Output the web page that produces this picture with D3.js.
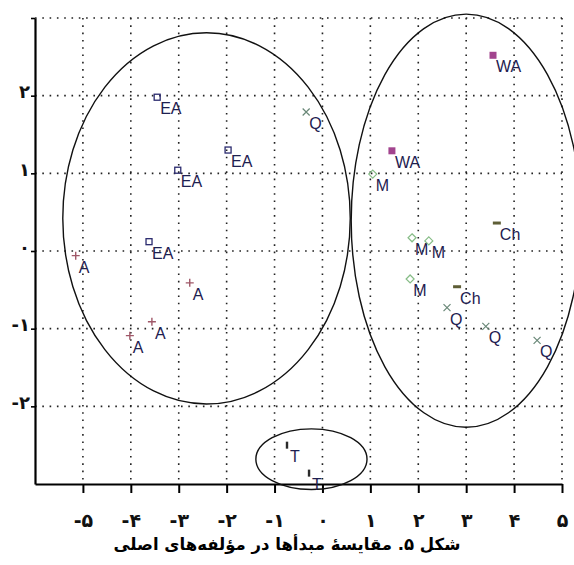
<!DOCTYPE html>
<html>
<head>
<meta charset="utf-8">
<script src="https://cdn.jsdelivr.net/npm/d3@7"></script>
<style>
  html, body { margin: 0; padding: 0; background: #fff; }
  svg { display: block; }
</style>
</head>
<body>
<svg id="chart" width="574" height="565"></svg>
<script>
const xTicks = [-5, -4, -3, -2, -1, 0, 1, 2, 3, 4, 5]
const yTicks = [-2, -1, 0, 1, 2, 3]
const xTickLabels = ['-۵', '-۴', '-۳', '-۲', '-۱', '۰', '۱', '۲', '۳', '۴', '۵']
const yTickLabels = ['-۲', '-۱', '۰', '۱', '۲', '']

const eaX = [-3.45, -3.02, -1.97, -3.62]
const eaY = [1.98, 1.04, 1.30, 0.12]
const aX = [-5.15, -2.77, -3.56, -4.02]
const aY = [-0.06, -0.41, -0.91, -1.09]
const qX = [-0.34, 2.60, 3.41, 4.48]
const qY = [1.79, -0.73, -0.97, -1.15]
const mX = [1.05, 1.87, 2.22, 1.83]
const mY = [0.99, 0.17, 0.13, -0.36]
const chX = [3.64, 2.81]
const chY = [0.36, -0.46]
const waX = [3.56, 1.45]
const waY = [2.52, 1.29]
const tX = [-0.74, -0.28]
const tY = [-2.50, -2.86]

// ellipses: centre x, centre y, radius x, radius y (data units)
const ellipseCx = [-2.42, 3.0, -0.23]
const ellipseCy = [0.42, 0.39, -2.68]
const ellipseRx = [3.0, 2.40, 1.16]
const ellipseRy = [2.39, 2.66, 0.39]

const caption = 'شکل ۵. مقایسهٔ مبدأها در مؤلفه‌های اصلی'

const groups = [
  {name: 'EA', xs: eaX, ys: eaY, shape: 'square', color: '#2a2a6e'},
  {name: 'A', xs: aX, ys: aY, shape: 'plus', color: '#a05868'},
  {name: 'Q', xs: qX, ys: qY, shape: 'cross', color: '#6a8878'},
  {name: 'M', xs: mX, ys: mY, shape: 'diamond', color: '#86bc86'},
  {name: 'Ch', xs: chX, ys: chY, shape: 'dash', color: '#5e5e36'},
  {name: 'WA', xs: waX, ys: waY, shape: 'filled', color: '#a2448e'},
  {name: 'T', xs: tX, ys: tY, shape: 'bar', color: '#2a2a2a'}
]

const svg = d3.select('#chart')
const x = d3.scaleLinear().domain([-6, 5]).range([35, 562])
const y = d3.scaleLinear().domain([-3, 3]).range([484, 18])

// dotted grid
svg.append('g')
  .selectAll('line')
  .data(xTicks)
  .enter()
  .append('line')
  .attr('x1', d => x(d)).attr('x2', d => x(d))
  .attr('y1', y(3)).attr('y2', y(-3))
  .style('stroke', '#222')
  .style('stroke-width', 1.6)
  .style('stroke-dasharray', '1.6,5.7')

svg.append('g')
  .selectAll('line')
  .data(yTicks)
  .enter()
  .append('line')
  .attr('x1', x(-6)).attr('x2', x(5))
  .attr('y1', d => y(d)).attr('y2', d => y(d))
  .style('stroke', '#222')
  .style('stroke-width', 1.6)
  .style('stroke-dasharray', '1.6,5.7')

// axes
const xAxis = svg.append('g')
  .attr('transform', `translate(0,${y(-3)})`)
  .call(d3.axisBottom(x).tickValues(xTicks).tickSize(9).tickFormat((d, i) => xTickLabels[i]).tickSizeOuter(0))
xAxis.select('.domain').style('stroke-width', 2.2)
xAxis.selectAll('.tick line').style('stroke-width', 2)
xAxis.selectAll('text')
  .attr('dy', null)
  .attr('y', 43)
  .style('font-family', 'DejaVu Sans')
  .style('font-weight', 'bold')
  .style('font-size', '19px')
  .style('fill', '#111')

const yAxis = svg.append('g')
  .attr('transform', `translate(${x(-6)},0)`)
  .call(d3.axisLeft(y).tickValues(yTicks).tickSize(4).tickFormat((d, i) => yTickLabels[i]).tickSizeOuter(0))
yAxis.select('.domain').style('stroke-width', 2.2)
yAxis.selectAll('.tick line').style('stroke-width', 1.6)
yAxis.selectAll('text')
  .attr('dy', null)
  .attr('x', -5)
  .attr('y', 2)
  .style('font-family', 'DejaVu Sans')
  .style('font-weight', 'bold')
  .style('font-size', '18px')
  .style('fill', '#111')

// ellipses
svg.append('g')
  .selectAll('ellipse')
  .data(ellipseCx)
  .enter()
  .append('ellipse')
  .attr('cx', d => x(d))
  .attr('cy', (d, i) => y(ellipseCy[i]))
  .attr('rx', (d, i) => x(ellipseRx[i]) - x(0))
  .attr('ry', (d, i) => y(0) - y(ellipseRy[i]))
  .style('fill', 'none')
  .style('stroke', '#111')
  .style('stroke-width', 1.4)

// points
const marker = (g, shape, color) => {
  if (shape === 'square') {
    g.append('rect').attr('x', -3).attr('y', -3).attr('width', 6).attr('height', 6)
      .style('fill', 'none').style('stroke', color).style('stroke-width', 1.3)
  } else if (shape === 'filled') {
    g.append('rect').attr('x', -3.5).attr('y', -3.5).attr('width', 7).attr('height', 7)
      .style('fill', color)
  } else if (shape === 'plus') {
    g.append('path').attr('d', 'M-4,0H4M0,-4V4')
      .style('stroke', color).style('stroke-width', 1.4)
  } else if (shape === 'cross') {
    g.append('path').attr('d', 'M-3.5,-3.5L3.5,3.5M-3.5,3.5L3.5,-3.5')
      .style('stroke', color).style('stroke-width', 1.2)
  } else if (shape === 'diamond') {
    g.append('path').attr('d', 'M0,-4L4,0L0,4L-4,0Z')
      .style('fill', 'none').style('stroke', color).style('stroke-width', 1.2)
  } else if (shape === 'dash') {
    g.append('rect').attr('x', -4).attr('y', -1.5).attr('width', 8).attr('height', 3)
      .style('fill', color)
  } else if (shape === 'bar') {
    g.append('rect').attr('x', -1.2).attr('y', -3.5).attr('width', 2.4).attr('height', 7)
      .style('fill', color)
  }
}

groups.forEach((grp) => {
  const pts = svg.append('g')
    .selectAll('g')
    .data(grp.xs.map((v, i) => [v, grp.ys[i]]))
    .enter()
    .append('g')
    .attr('transform', d => `translate(${x(d[0])},${y(d[1])})`)

  pts.each(function() { marker(d3.select(this), grp.shape, grp.color) })

  pts.append('text')
    .attr('x', 3)
    .attr('y', 17)
    .style('font-family', 'Liberation Sans')
    .style('font-size', '16px')
    .style('fill', '#1e2050')
    .text(grp.name)
})

svg.append('text')
  .attr('x', 287)
  .attr('y', 550)
  .attr('text-anchor', 'middle')
  .attr('direction', 'rtl')
  .style('font-family', 'DejaVu Sans')
  .style('font-weight', 'bold')
  .style('font-size', '16.5px')
  .style('fill', '#000')
  .text(caption)
</script>
</body>
</html>
